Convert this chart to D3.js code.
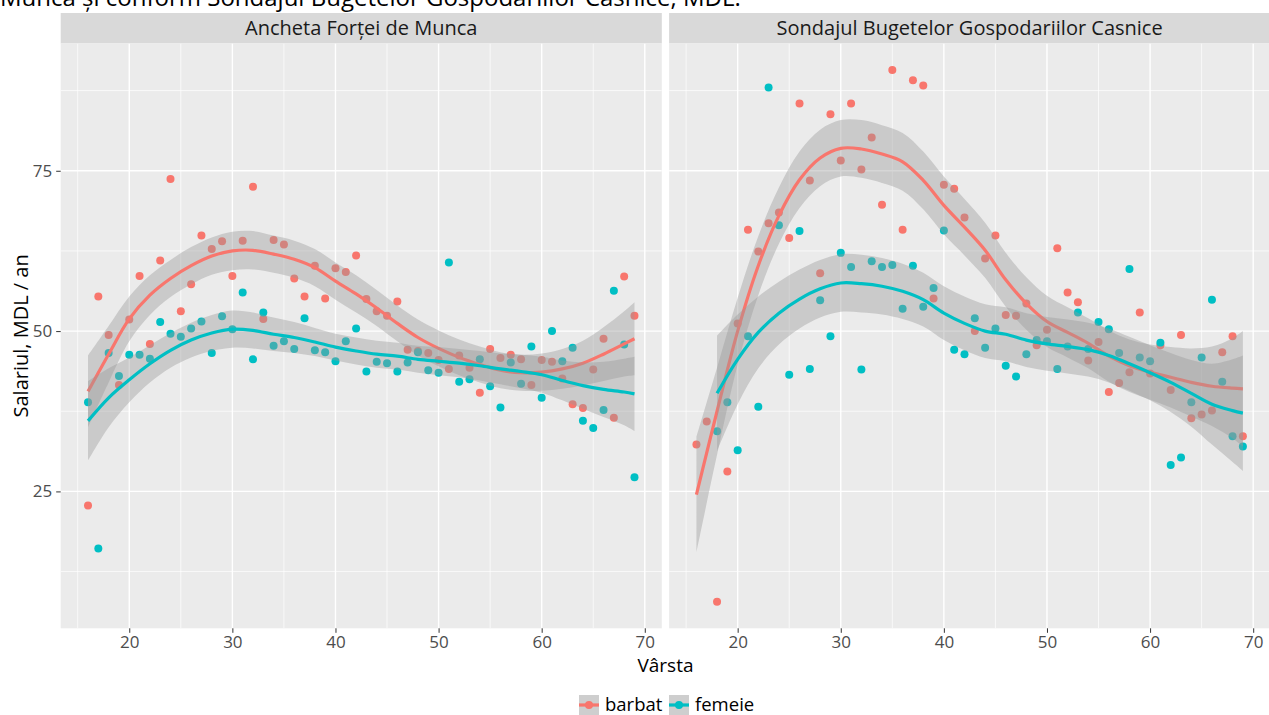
<!DOCTYPE html>
<html>
<head>
<meta charset="utf-8">
<script src="https://cdn.jsdelivr.net/npm/d3@7"></script>
<style>
  body { margin: 0; background: #fff; }
  svg text { font-family: "Open Sans", "Noto Sans", sans-serif; }
</style>
</head>
<body>
<div id="chart"></div>
<script>
// Ages on the x axis
const ages = [16, 17, 18, 19, 20, 21, 22, 23, 24, 25, 26, 27, 28, 29, 30, 31, 32, 33, 34, 35,
  36, 37, 38, 39, 40, 41, 42, 43, 44, 45, 46, 47, 48, 49, 50, 51, 52, 53, 54, 55,
  56, 57, 58, 59, 60, 61, 62, 63, 64, 65, 66, 67, 68, 69];
const agesSbgcFemeie = ages.slice(2); // women start at 18 in the budget survey

// Mean wage per age, MDL / an (thousands)
const afmBarbat = [22.8, 55.4, 49.4, 41.6, 51.8, 58.6, 48.0, 61.0, 73.7, 53.1, 57.3, 64.9, 62.8, 64.0, 58.6, 64.1, 72.5, 51.9, 64.2, 63.5,
  58.2, 55.4, 60.2, 55.1, 59.8, 59.2, 61.8, 55.0, 53.1, 52.4, 54.6, 47.1, 46.9, 46.6, 45.5, 44.1, 46.2, 44.3, 40.4, 47.2,
  45.8, 46.3, 45.6, 41.6, 45.5, 45.2, 42.6, 38.6, 38.0, 44.0, 48.8, 36.5, 58.5, 52.4];
const afmFemeie = [38.9, 16.1, 46.6, 43.0, 46.3, 46.3, 45.7, 51.4, 49.6, 49.1, 50.4, 51.5, 46.6, 52.3, 50.3, 56.0, 45.6, 52.9, 47.7, 48.4,
  47.2, 52.0, 47.0, 46.7, 45.3, 48.4, 50.4, 43.7, 45.2, 45.0, 43.7, 45.1, 46.7, 43.9, 43.5, 60.7, 42.1, 42.5, 45.6, 41.4,
  38.1, 45.1, 41.8, 47.6, 39.6, 50.0, 45.3, 47.4, 36.0, 34.9, 37.7, 56.3, 47.9, 27.2];
const sbgcBarbat = [32.3, 35.9, 7.8, 28.1, 51.2, 65.8, 62.4, 66.8, 68.5, 64.5, 85.5, 73.5, 59.0, 83.8, 76.6, 85.5, 75.2, 80.2, 69.7, 90.7,
  65.8, 89.1, 88.3, 55.1, 72.8, 72.2, 67.7, 50.0, 61.3, 64.9, 52.5, 52.4, 54.3, 47.8, 50.2, 62.9, 56.0, 54.5, 45.4, 48.3,
  40.5, 41.9, 43.6, 52.9, 43.4, 47.8, 40.8, 49.4, 36.4, 37.0, 37.6, 46.7, 49.2, 33.6];
const sbgcFemeie = [34.4, 38.9, 31.4, 49.2, 38.2, 88.0, 66.5, 43.2, 65.6, 44.1, 54.8, 49.2, 62.2, 60.0, 44.0, 60.9, 60.0, 60.3,
  53.5, 60.2, 53.8, 56.7, 65.7, 47.1, 46.4, 52.0, 47.4, 50.4, 44.6, 42.9, 46.4, 48.6, 48.4, 44.1, 47.6, 52.9, 47.2, 51.4,
  50.3, 46.6, 59.7, 45.9, 45.3, 48.2, 29.1, 30.3, 38.9, 45.9, 54.9, 42.1, 33.6, 32.0];

// Loess fit and confidence half-width, read at these ages
const smoothAges = [16, 18, 20, 22, 24, 26, 28, 30, 32, 34, 36, 38, 40, 42, 44, 46, 48, 50, 52, 54, 56, 58, 60, 62, 64, 66, 68, 69];
const smoothAgesSbgcFemeie = smoothAges.slice(1);

const afmBarbatFit = [40.6, 46.4, 51.9, 55.6, 58.2, 60.2, 61.7, 62.5, 62.6, 62.0, 61.2, 59.9, 57.8, 55.8, 53.6, 51.2, 49.0, 47.3, 45.9, 44.8, 43.9, 43.5, 43.6, 44.1, 45.0, 46.4, 48.0, 48.8];
const afmBarbatSe = [5.6, 4.4, 3.5, 3.1, 2.9, 2.9, 2.9, 3.0, 3.0, 2.9, 2.9, 2.9, 2.9, 2.9, 2.8, 2.8, 2.8, 2.8, 2.8, 2.8, 2.8, 2.8, 2.9, 3.1, 3.5, 4.2, 5.1, 5.7];
const afmFemeieFit = [36.0, 39.6, 42.4, 44.9, 47.0, 48.6, 49.7, 50.3, 50.1, 49.5, 49.0, 48.3, 47.5, 46.9, 46.4, 46.1, 45.6, 45.3, 45.0, 44.6, 44.1, 43.7, 43.2, 42.3, 41.5, 40.9, 40.5, 40.2];
const afmFemeieSe = [6.2, 4.6, 3.5, 2.9, 2.7, 2.7, 2.8, 2.9, 2.8, 2.6, 2.4, 2.2, 2.1, 2.1, 2.1, 2.1, 2.1, 2.2, 2.2, 2.3, 2.4, 2.6, 2.8, 3.1, 3.6, 4.3, 5.2, 5.8];
const sbgcBarbatFit = [24.5, 37.5, 50.0, 60.2, 68.0, 73.6, 77.0, 78.5, 78.4, 77.6, 76.4, 73.5, 69.6, 66.2, 62.6, 58.0, 54.3, 51.5, 49.8, 48.1, 46.1, 44.6, 43.6, 42.8, 42.0, 41.4, 41.1, 41.0];
const sbgcBarbatSe = [9.0, 6.8, 5.2, 4.6, 4.4, 4.4, 4.4, 4.4, 4.5, 4.5, 4.5, 4.5, 4.5, 4.4, 4.3, 4.2, 4.1, 4.0, 3.9, 3.9, 4.0, 4.1, 4.3, 4.7, 5.3, 6.2, 7.8, 9.0];
const sbgcFemeieFit = [40.3, 45.6, 49.8, 52.8, 55.0, 56.6, 57.5, 57.4, 57.0, 56.2, 54.9, 52.8, 51.2, 50.0, 49.5, 48.6, 48.0, 47.6, 47.1, 46.2, 44.9, 43.5, 42.0, 40.3, 38.6, 37.6, 37.2];
const sbgcFemeieSe = [9.0, 7.0, 5.6, 4.9, 4.6, 4.5, 4.5, 4.5, 4.4, 4.3, 4.2, 4.2, 4.2, 4.2, 4.2, 4.2, 4.2, 4.2, 4.2, 4.2, 4.2, 4.3, 4.6, 5.2, 6.3, 8.0, 9.0];

const xBreaks = [20, 30, 40, 50, 60, 70];
const xMinor = [15, 25, 35, 45, 55, 65];
const yBreaks = [25, 50, 75];
const yMinor = [12.5, 37.5, 62.5, 87.5];
const sexes = ['barbat', 'femeie'];
const colors = { barbat: '#F8766D', femeie: '#00BFC4' };

const zip = (xs, ys) => xs.map((a, i) => ({ age: a, v: ys[i] }));
const zipSmooth = (xs, fit, se) => xs.map((a, i) => ({ age: a, fit: fit[i], lo: fit[i] - se[i], hi: fit[i] + se[i] }));

const panels = [
  {
    title: 'Ancheta Forței de Munca',
    points: { barbat: zip(ages, afmBarbat), femeie: zip(ages, afmFemeie) },
    smooth: { barbat: zipSmooth(smoothAges, afmBarbatFit, afmBarbatSe), femeie: zipSmooth(smoothAges, afmFemeieFit, afmFemeieSe) }
  },
  {
    title: 'Sondajul Bugetelor Gospodariilor Casnice',
    points: { barbat: zip(ages, sbgcBarbat), femeie: zip(agesSbgcFemeie, sbgcFemeie) },
    smooth: { barbat: zipSmooth(smoothAges, sbgcBarbatFit, sbgcBarbatSe), femeie: zipSmooth(smoothAgesSbgcFemeie, sbgcFemeieFit, sbgcFemeieSe) }
  }
];

const W = 1269, H = 715;
const panelLeft = [60.7, 669.1];
const panelW = 601.1;
const panelTop = 43.5, panelBottom = 628.3;
const stripTop = 13;

// ggplot-style 5% expansion of the data range
function expand([a, b]) { const d = (b - a) * 0.05; return [a - d, b + d]; }
const xDomain = expand(d3.extent(ages));
const allValues = [afmBarbat, afmFemeie, sbgcBarbat, sbgcFemeie].flat();
const yDomain = expand(d3.extent(allValues));

const y = d3.scaleLinear().domain(yDomain).range([panelBottom, panelTop]);

const svg = d3.select('#chart')
  .append('svg')
  .attr('width', W)
  .attr('height', H);

// Title line, cut at the top edge as in the source
svg.append('text')
  .attr('x', 0)
  .attr('y', 5.5)
  .attr('fill', '#000')
  .style('font-size', '24px')
  .text('Munca și conform Sondajul Bugetelor Gospodariilor Casnice, MDL.');

panels.forEach((p, pi) => {
  const x = d3.scaleLinear().domain(xDomain).range([panelLeft[pi], panelLeft[pi] + panelW]);
  const g = svg.append('g');

  // Strip
  g.append('rect')
    .attr('x', panelLeft[pi]).attr('y', stripTop)
    .attr('width', panelW).attr('height', panelTop - stripTop)
    .attr('fill', '#D9D9D9');
  g.append('text')
    .attr('x', panelLeft[pi] + panelW / 2)
    .attr('y', (stripTop + panelTop) / 2)
    .attr('dy', '0.35em')
    .attr('text-anchor', 'middle')
    .attr('fill', '#1A1A1A')
    .style('font-size', '20px')
    .text(p.title);

  // Panel background
  g.append('rect')
    .attr('x', panelLeft[pi]).attr('y', panelTop)
    .attr('width', panelW).attr('height', panelBottom - panelTop)
    .attr('fill', '#EBEBEB');

  const clipId = 'clip' + pi;
  svg.append('clipPath').attr('id', clipId)
    .append('rect')
    .attr('x', panelLeft[pi]).attr('y', panelTop)
    .attr('width', panelW).attr('height', panelBottom - panelTop);

  const inner = g.append('g').attr('clip-path', `url(#${clipId})`);

  // Grid
  inner.selectAll('.xminor').data(xMinor).join('line')
    .attr('x1', d => x(d)).attr('x2', d => x(d))
    .attr('y1', panelTop).attr('y2', panelBottom)
    .attr('stroke', '#fff').attr('stroke-width', 0.7);
  inner.selectAll('.yminor').data(yMinor).join('line')
    .attr('x1', panelLeft[pi]).attr('x2', panelLeft[pi] + panelW)
    .attr('y1', d => y(d)).attr('y2', d => y(d))
    .attr('stroke', '#fff').attr('stroke-width', 0.7);
  inner.selectAll('.xmajor').data(xBreaks).join('line')
    .attr('x1', d => x(d)).attr('x2', d => x(d))
    .attr('y1', panelTop).attr('y2', panelBottom)
    .attr('stroke', '#fff').attr('stroke-width', 1.4);
  inner.selectAll('.ymajor').data(yBreaks).join('line')
    .attr('x1', panelLeft[pi]).attr('x2', panelLeft[pi] + panelW)
    .attr('y1', d => y(d)).attr('y2', d => y(d))
    .attr('stroke', '#fff').attr('stroke-width', 1.4);

  // Points
  sexes.forEach(s => {
    inner.append('g').selectAll('circle')
      .data(p.points[s])
      .join('circle')
      .attr('cx', d => x(d.age))
      .attr('cy', d => y(d.v))
      .attr('r', 4)
      .attr('fill', colors[s]);
  });

  // Smooths: ribbon then line, per group
  const area = d3.area()
    .x(d => x(d.age)).y0(d => y(d.lo)).y1(d => y(d.hi))
    .curve(d3.curveCatmullRom);
  const line = d3.line()
    .x(d => x(d.age)).y(d => y(d.fit))
    .curve(d3.curveCatmullRom);

  sexes.forEach(s => {
    inner.append('path')
      .datum(p.smooth[s])
      .attr('d', area)
      .attr('fill', '#999999')
      .attr('fill-opacity', 0.4);
    inner.append('path')
      .datum(p.smooth[s])
      .attr('d', line)
      .attr('fill', 'none')
      .attr('stroke', colors[s])
      .attr('stroke-width', 3.2);
  });

  // X axis
  const xAxis = g.append('g').attr('transform', `translate(0,${panelBottom})`)
    .call(d3.axisBottom(x).tickValues(xBreaks).tickSize(4.5).tickPadding(3));
  xAxis.select('.domain').remove();
  xAxis.selectAll('.tick line').attr('stroke', '#333');
  xAxis.selectAll('.tick text')
    .attr('fill', '#4D4D4D')
    .style('font-size', '17px')
    .style('font-family', '"Open Sans", "Noto Sans", sans-serif');

  // Y axis on the left panel only
  if (pi === 0) {
    const yAxis = g.append('g').attr('transform', `translate(${panelLeft[pi]},0)`)
      .call(d3.axisLeft(y).tickValues(yBreaks).tickSize(4.5).tickPadding(4));
    yAxis.select('.domain').remove();
    yAxis.selectAll('.tick line').attr('stroke', '#333');
    yAxis.selectAll('.tick text')
      .attr('fill', '#4D4D4D')
      .style('font-size', '17px')
      .style('font-family', '"Open Sans", "Noto Sans", sans-serif');
  }
});

// Axis titles
svg.append('text')
  .attr('x', (panelLeft[0] + panelLeft[1] + panelW) / 2)
  .attr('y', 672)
  .attr('text-anchor', 'middle')
  .attr('fill', '#000')
  .style('font-size', '19px')
  .text('Vârsta');

svg.append('text')
  .attr('transform', `translate(28,${(panelTop + panelBottom) / 2}) rotate(-90)`)
  .attr('text-anchor', 'middle')
  .attr('fill', '#000')
  .style('font-size', '20px')
  .text('Salariul, MDL / an');

// Legend
const legend = svg.append('g');
const legendX = [579, 669];
sexes.forEach((s, i) => {
  const k = legend.append('g').attr('transform', `translate(${legendX[i]},695)`);
  k.append('rect').attr('width', 20).attr('height', 20).attr('fill', '#F2F2F2');
  k.append('rect').attr('width', 20).attr('height', 20).attr('fill', '#999999').attr('fill-opacity', 0.4);
  k.append('line').attr('x1', 0).attr('x2', 20).attr('y1', 10).attr('y2', 10)
    .attr('stroke', colors[s]).attr('stroke-width', 3.2);
  k.append('circle').attr('cx', 10).attr('cy', 10).attr('r', 4).attr('fill', colors[s]);
  k.append('text')
    .attr('x', 26).attr('y', 10).attr('dy', '0.35em')
    .attr('fill', '#000')
    .style('font-size', '18.5px')
    .text(s);
});
</script>
</body>
</html>
